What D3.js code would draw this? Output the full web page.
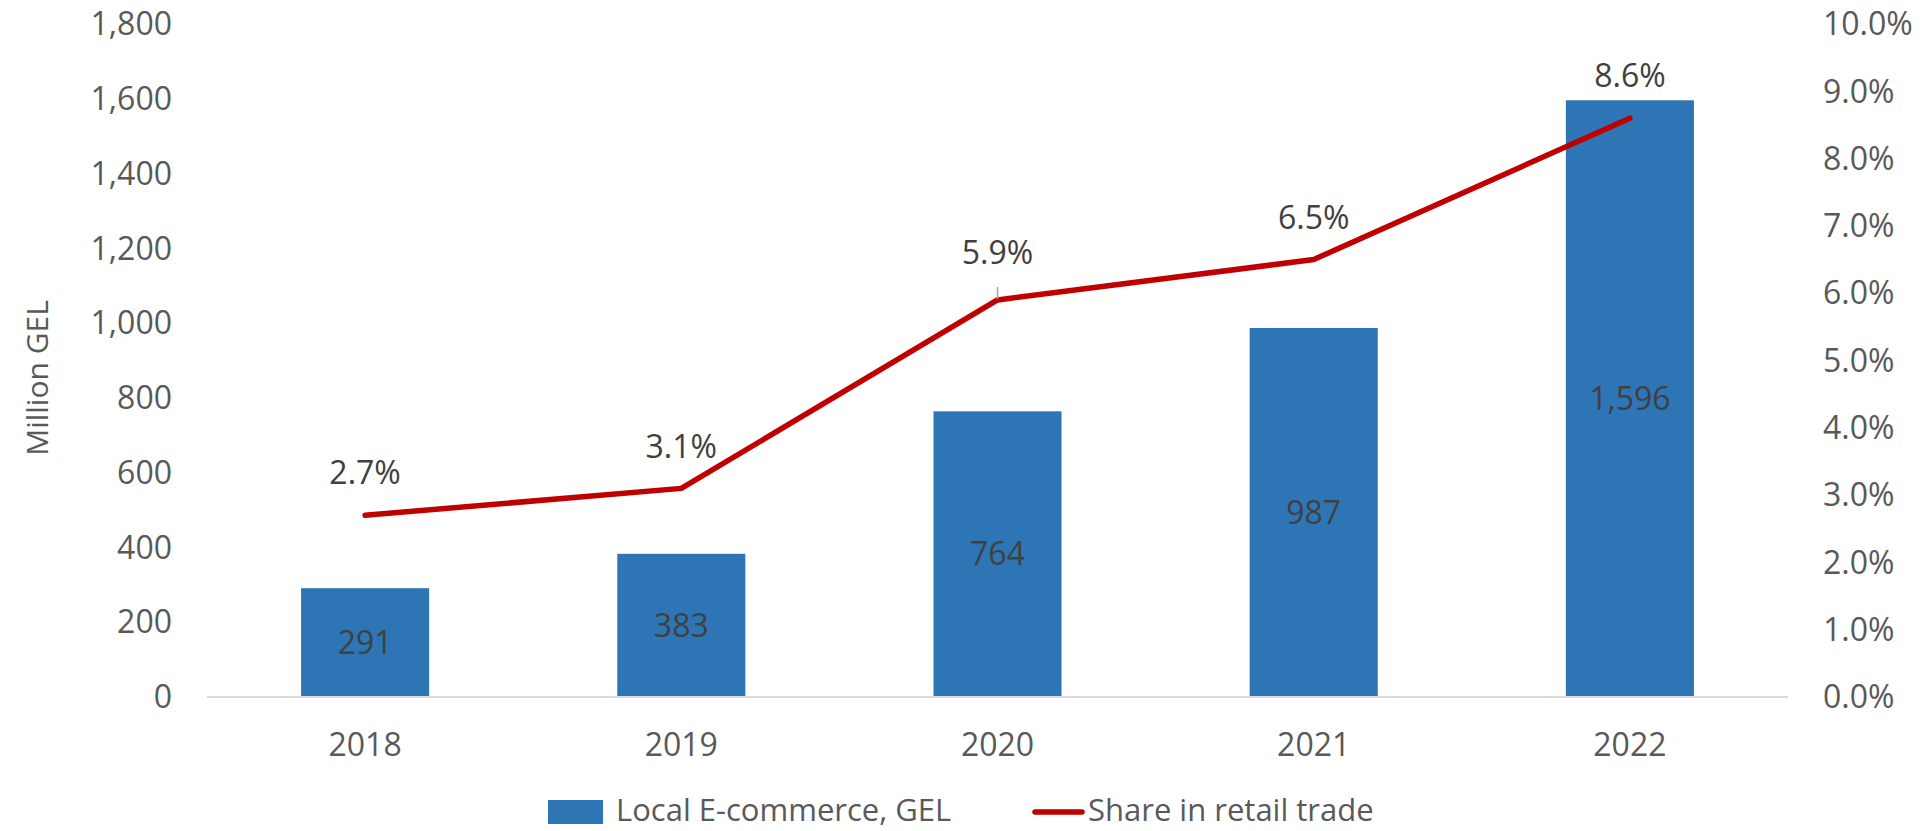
<!DOCTYPE html>
<html>
<head>
<meta charset="utf-8">
<script src="https://cdn.jsdelivr.net/npm/d3@7"></script>
<style>
  body { margin: 0; background: #fff; }
  text { font-family: 'Open Sans', sans-serif; }
</style>
</head>
<body>
<div id="chart"></div>
<script>
// data
const years = ['2018', '2019', '2020', '2021', '2022']
const ecommerce = [291, 383, 764, 987, 1596]
const share = [2.7, 3.1, 5.9, 6.5, 8.6]
const leftTicks = [0, 200, 400, 600, 800, 1000, 1200, 1400, 1600, 1800]
const rightTicks = [0, 1, 2, 3, 4, 5, 6, 7, 8, 9, 10]

const width = 1921
const height = 831
const margin = { top: 24, left: 207, right: 133, bottom: 134 }

const svg = d3.select('#chart')
  .append('svg')
  .attr('width', width)
  .attr('height', height)

const x = d3.scaleBand()
  .domain(years)
  .range([margin.left, width - margin.right])
  .paddingInner(0.595)
  .paddingOuter(0.2975)

const y = d3.scaleLinear()
  .domain([0, 1800])
  .range([height - margin.bottom, margin.top])

const y2 = d3.scaleLinear()
  .domain([0, 10])
  .range([height - margin.bottom, margin.top])

const fmt = d3.format(',')

// left axis labels
svg.append('g')
  .selectAll('text')
  .data(leftTicks)
  .enter()
  .append('text')
  .attr('x', 172)
  .attr('y', d => y(d))
  .attr('dy', '0.35em')
  .attr('text-anchor', 'end')
  .attr('font-size', 32)
  .attr('fill', '#595959')
  .text(d => fmt(d))

// right axis labels
svg.append('g')
  .selectAll('text')
  .data(rightTicks)
  .enter()
  .append('text')
  .attr('x', 1823)
  .attr('y', d => y2(d))
  .attr('dy', '0.35em')
  .attr('text-anchor', 'start')
  .attr('font-size', 32)
  .attr('fill', '#595959')
  .text(d => d.toFixed(1) + '%')

// axis title
svg.append('text')
  .attr('transform', 'translate(37,378) rotate(-90)')
  .attr('dy', '0.35em')
  .attr('text-anchor', 'middle')
  .attr('font-size', 30)
  .attr('fill', '#595959')
  .text('Million GEL')

// bars
svg.selectAll('.bar')
  .data(years)
  .enter()
  .append('rect')
  .attr('class', 'bar')
  .attr('x', d => x(d))
  .attr('width', x.bandwidth())
  .attr('y', (d, i) => y(ecommerce[i]))
  .attr('height', (d, i) => y(0) - y(ecommerce[i]))
  .attr('fill', '#2E75B6')

// baseline
svg.append('line')
  .attr('x1', margin.left)
  .attr('x2', width - margin.right)
  .attr('y1', y(0))
  .attr('y2', y(0))
  .attr('stroke', '#D9D9D9')
  .attr('stroke-width', 2)

// year labels
svg.append('g')
  .selectAll('text')
  .data(years)
  .enter()
  .append('text')
  .attr('x', d => x(d) + x.bandwidth() / 2)
  .attr('y', 745)
  .attr('dy', '0.35em')
  .attr('text-anchor', 'middle')
  .attr('font-size', 32)
  .attr('fill', '#595959')
  .text(d => d)

// bar value labels
svg.append('g')
  .selectAll('text')
  .data(years)
  .enter()
  .append('text')
  .attr('x', d => x(d) + x.bandwidth() / 2)
  .attr('y', (d, i) => (y(ecommerce[i]) + y(0)) / 2)
  .attr('dy', '0.35em')
  .attr('text-anchor', 'middle')
  .attr('font-size', 32)
  .attr('fill', '#404040')
  .text((d, i) => fmt(ecommerce[i]))

// share line
const line = d3.line()
  .x(d => x(d[0]) + x.bandwidth() / 2)
  .y(d => y2(d[1]))

svg.append('path')
  .datum(years.map((d, i) => [d, share[i]]))
  .attr('d', line)
  .attr('fill', 'none')
  .attr('stroke', '#C00000')
  .attr('stroke-width', 5.5)
  .attr('stroke-linecap', 'round')
  .attr('stroke-linejoin', 'round')

// leader line for the 2020 label
svg.append('line')
  .attr('x1', x('2020') + x.bandwidth() / 2)
  .attr('x2', x('2020') + x.bandwidth() / 2)
  .attr('y1', y2(share[2]) - 13)
  .attr('y2', y2(share[2]) - 1)
  .attr('stroke', '#A6A6A6')
  .attr('stroke-width', 1.5)

// share labels
svg.append('g')
  .selectAll('text')
  .data(years)
  .enter()
  .append('text')
  .attr('x', d => x(d) + x.bandwidth() / 2)
  .attr('y', (d, i) => y2(share[i]) - (i === 2 ? 47 : 42))
  .attr('dy', '0.35em')
  .attr('text-anchor', 'middle')
  .attr('font-size', 32)
  .attr('fill', '#404040')
  .text((d, i) => share[i].toFixed(1) + '%')

// legend
const legend = svg.append('g')
legend.append('rect')
  .attr('x', 548).attr('y', 800)
  .attr('width', 55).attr('height', 24)
  .attr('fill', '#2E75B6')
legend.append('text')
  .attr('x', 616).attr('y', 810)
  .attr('dy', '0.35em')
  .attr('font-size', 31)
  .attr('fill', '#595959')
  .text('Local E-commerce, GEL')
legend.append('line')
  .attr('x1', 1035).attr('x2', 1082)
  .attr('y1', 812).attr('y2', 812)
  .attr('stroke', '#C00000')
  .attr('stroke-width', 5.5)
  .attr('stroke-linecap', 'round')
legend.append('text')
  .attr('x', 1088).attr('y', 810)
  .attr('dy', '0.35em')
  .attr('font-size', 31)
  .attr('fill', '#595959')
  .text('Share in retail trade')
</script>
</body>
</html>
